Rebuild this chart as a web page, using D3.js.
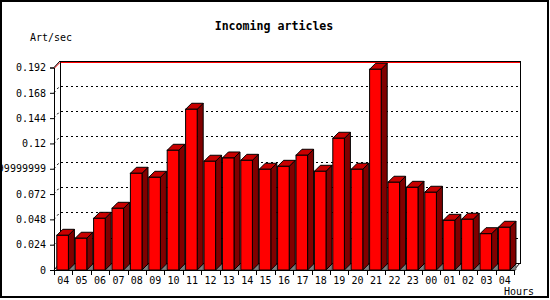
<!DOCTYPE html>
<html>
<head>
<meta charset="utf-8">
<script src="https://cdn.jsdelivr.net/npm/d3@7"></script>
<style>
  body { margin: 0; background: #fff; }
  text { font-family: "DejaVu Sans Mono", monospace; fill: #000; }
</style>
</head>
<body>
<div id="chart"></div>
<script>
// hours on the x axis (24h window, starts and ends at 04)
var hours = ["04","05","06","07","08","09","10","11","12","13","14","15","16",
             "17","18","19","20","21","22","23","00","01","02","03","04"];

// articles per second for each hour
var rates = [0.0329, 0.0301, 0.0490, 0.0585, 0.0917, 0.0879, 0.1135, 0.1524,
             0.1031, 0.1062, 0.1040, 0.0955, 0.0983, 0.1088, 0.0936, 0.1249,
             0.0955, 0.1903, 0.0832, 0.0784, 0.0737, 0.0471, 0.0481, 0.0344, 0.0405];

// y ticks and how they are printed
var yTicks = [0, 0.024, 0.048, 0.072, 0.096, 0.12, 0.144, 0.168, 0.192];
var yTickLabels = ["0","0.024","0.048","0.072","0.09599999999999999","0.12","0.144","0.168","0.192"];

var W = 550, H = 300;
var left = 54, right = 514, bottom = 270;
var dx = 6, dy = 7;   // 3d depth offset

var svg = d3.select("#chart").append("svg")
    .attr("width", W).attr("height", H);

var x = d3.scaleBand()
    .domain(d3.range(hours.length))
    .range([left, right]);

var y = d3.scaleLinear()
    .domain([0, 0.192])
    .range([bottom, 67.5]);

var yTopBack = y(0.192) - 6.5;

// back wall
var wall = svg.append("g").attr("fill", "none").attr("stroke", "#000").attr("shape-rendering", "crispEdges");
wall.append("rect")
    .attr("x", left + dx + 0.5).attr("y", yTopBack)
    .attr("width", right - left).attr("height", bottom - dy - yTopBack);

// dotted gridlines on back wall + side wall
var grid = svg.append("g").attr("stroke", "#000").attr("stroke-dasharray", "2,3");
yTicks.slice(1, -1).forEach(function(v) {
  var yy = Math.round(y(v) - dy) + 0.5;
  grid.append("line")
      .attr("x1", left + dx + 1).attr("x2", right + dx)
      .attr("y1", yy).attr("y2", yy)
      .attr("shape-rendering", "crispEdges");
  grid.append("line")
      .attr("x1", left).attr("y1", y(v))
      .attr("x2", left + dx).attr("y2", y(v) - dy);
});

// red line at the top
svg.append("line")
    .attr("x1", left + dx + 1).attr("x2", right + dx)
    .attr("y1", yTopBack + 1.5).attr("y2", yTopBack + 1.5)
    .attr("stroke", "#f00").attr("shape-rendering", "crispEdges");
svg.append("line")
    .attr("x1", left).attr("y1", y(0.192) + 1)
    .attr("x2", left + dx).attr("y2", yTopBack + 1.5)
    .attr("stroke", "#f00");
svg.append("line")
    .attr("x1", left).attr("y1", y(0.192))
    .attr("x2", left + dx).attr("y2", yTopBack)
    .attr("stroke", "#000");

// floor edges
svg.append("line").attr("x1", left).attr("y1", bottom).attr("x2", left + dx).attr("y2", bottom - dy).attr("stroke", "#000");
svg.append("line").attr("x1", right).attr("y1", bottom).attr("x2", right + dx).attr("y2", bottom - dy).attr("stroke", "#000");

// bars
var bw = x.bandwidth() * 0.63, off = 2.8, d = 6;
var bars = svg.append("g").selectAll("g")
    .data(rates)
    .enter().append("g");

bars.each(function(v, i) {
  var g = d3.select(this);
  var xl = x(i) + off, xr = xl + bw, yt = y(v), yb = bottom;
  // floor shadow
  g.append("polygon")
      .attr("points", [[xr, yb], [xr + d, yb - d], [xr + d, yb]].join(" "))
      .attr("fill", "#808080").attr("stroke", "#404040").attr("stroke-width", 0.6);
  // side
  g.append("polygon")
      .attr("points", [[xr, yt], [xr + d, yt - d], [xr + d, yb - d], [xr, yb]].join(" "))
      .attr("fill", "#800000").attr("stroke", "#000");
  // top
  g.append("polygon")
      .attr("points", [[xl, yt], [xl + d, yt - d], [xr + d, yt - d], [xr, yt]].join(" "))
      .attr("fill", "#c80000").attr("stroke", "#000");
  // front
  g.append("rect")
      .attr("x", xl).attr("y", yt)
      .attr("width", bw).attr("height", yb - yt)
      .attr("fill", "#f00").attr("stroke", "#000");
});

// y axis
var yAxis = d3.axisLeft(y)
    .tickValues(yTicks)
    .tickFormat(function(d, i) { return yTickLabels[i]; })
    .tickSize(4).tickPadding(4);

svg.append("g")
    .attr("class", "y axis")
    .attr("transform", "translate(" + left + ",0)")
    .call(yAxis)
    .call(function(g) {
      g.select(".domain").attr("stroke", "#000");
      g.selectAll("text").style("font-size", "10px").attr("fill", "#000");
    });

// x axis, ticks sit between the bars
var xAxis = d3.axisBottom(x)
    .tickFormat(function(i) { return hours[i]; })
    .tickSize(0).tickPadding(7);

svg.append("g")
    .attr("class", "x axis")
    .attr("transform", "translate(0," + bottom + ")")
    .call(xAxis)
    .call(function(g) {
      g.select(".domain").attr("d", "M" + left + ",0.5H" + right).attr("stroke", "#000");
      g.selectAll("text").style("font-size", "10px").attr("fill", "#000");
    });

svg.append("g").selectAll("line")
    .data(d3.range(hours.length + 1))
    .enter().append("line")
    .attr("x1", function(i) { return Math.round(left + i * x.step()) + 0.5; })
    .attr("x2", function(i) { return Math.round(left + i * x.step()) + 0.5; })
    .attr("y1", bottom).attr("y2", bottom + 5)
    .attr("stroke", "#000");

// titles
svg.append("text")
    .attr("x", 274).attr("y", 30)
    .attr("text-anchor", "middle")
    .style("font-size", "11.6px").style("font-weight", "bold")
    .text("Incoming articles");

svg.append("text")
    .attr("x", 30).attr("y", 41)
    .style("font-size", "10px")
    .text("Art/sec");

svg.append("text")
    .attr("x", 504).attr("y", 295)
    .style("font-size", "10px")
    .text("Hours");

// outer frame
svg.insert("rect", ":first-child")
    .attr("x", 1).attr("y", 1).attr("width", 547).attr("height", 296)
    .attr("fill", "#fff").attr("stroke", "#000").attr("stroke-width", 2);
</script>
</body>
</html>
